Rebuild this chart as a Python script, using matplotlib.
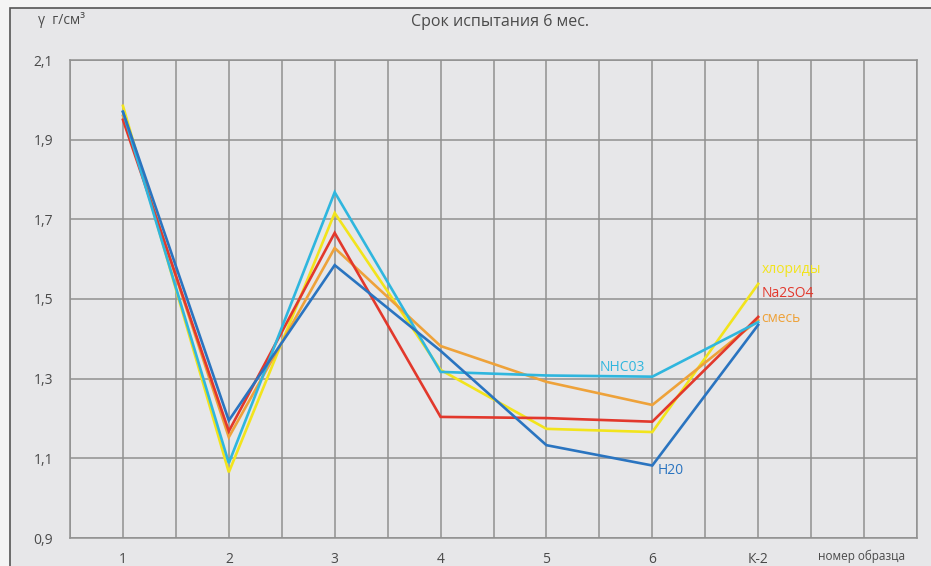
import matplotlib
matplotlib.use("Agg")
import matplotlib.pyplot as plt
from matplotlib.patches import Rectangle

plt.rcParams['font.family'] = ['Open Sans', 'DejaVu Sans']

# образцы
samples = ["1", "2", "3", "4", "5", "6", "К-2"]
x_pos = [1, 2, 3, 4, 5, 6, 7]

# плотность, г/см3
h2o = [1.97, 1.195, 1.585, 1.37, 1.133, 1.082, 1.435]
nhco3 = [1.97, 1.088, 1.768, 1.317, 1.308, 1.305, 1.442]
chlorides = [1.985, 1.065, 1.716, 1.322, 1.174, 1.166, 1.538]
na2so4 = [1.95, 1.168, 1.666, 1.204, 1.201, 1.192, 1.455]
mix = [1.96, 1.153, 1.628, 1.382, 1.292, 1.234, 1.447]

series = [
    ("хлориды", chlorides, "#f2e41c"),
    ("смесь", mix, "#eea23a"),
    ("Na2SO4", na2so4, "#e2382c"),
    ("NHC03", nhco3, "#2fb6de"),
    ("H20", h2o, "#2a74c0"),
]

bg = "#e7e7e9"
txt = "#4a4a4a"

fig = plt.figure(figsize=(9.31, 5.66), dpi=100)
fig.patch.set_facecolor("#f4f4f4")
fig.patches.append(Rectangle((10 / 931, -0.02), 0.99, 1 - 8 / 566 + 0.02,
                             transform=fig.transFigure, facecolor=bg,
                             edgecolor="#555555", linewidth=1.2, zorder=-1))

ax = fig.add_axes([70 / 931, 1 - 538 / 566, (917 - 70) / 931, (538 - 60) / 566])
ax.set_facecolor(bg)

for name, vals, col in series:
    ax.plot(x_pos, vals, color=col, linewidth=1.9, solid_joinstyle="miter", zorder=3)

ax.set_xlim(0.5, 8.5)
ax.set_ylim(0.9, 2.1)
ax.set_xticks([0.5 + 0.5 * i for i in range(17)])
ax.set_xticklabels([])
ax.set_yticks([0.9, 1.1, 1.3, 1.5, 1.7, 1.9, 2.1])
ax.set_yticklabels(["0,9", "1,1", "1,3", "1,5", "1,7", "1,9", "2,1"],
                   color=txt, fontsize=10)
ax.tick_params(length=0, pad=12)
ax.grid(True, color="#909090", linewidth=1.1)
for s in ax.spines.values():
    s.set_color("#909090")
    s.set_linewidth(1.1)

for xp, lab in zip(x_pos, samples):
    ax.text(xp, 0.845, lab, ha="center", va="center", color=txt, fontsize=10)

# подписи рядов
ax.text(7.03, 1.575, "хлориды", color="#f2e41c", fontsize=10, va="center")
ax.text(7.03, 1.515, "Na2SO4", color="#e2382c", fontsize=10, va="center")
ax.text(7.03, 1.45, "смесь", color="#eea23a", fontsize=10, va="center")
ax.text(5.5, 1.328, "NHC03", color="#2fb6de", fontsize=10, va="center")
ax.text(6.05, 1.07, "H20", color="#2a74c0", fontsize=10, va="center")

fig.text(500 / 931, 1 - 22 / 566, "Срок испытания 6 мес.", ha="center",
         va="center", color=txt, fontsize=11.5)
fig.text(38 / 931, 1 - 20 / 566, "γ  г/см³", ha="left", va="center",
         color=txt, fontsize=10)
fig.text(862 / 931, 1 - 556 / 566, "номер образца", ha="center", va="center",
         color=txt, fontsize=8.5)

fig.savefig("out.png", dpi=100, facecolor=fig.get_facecolor())
